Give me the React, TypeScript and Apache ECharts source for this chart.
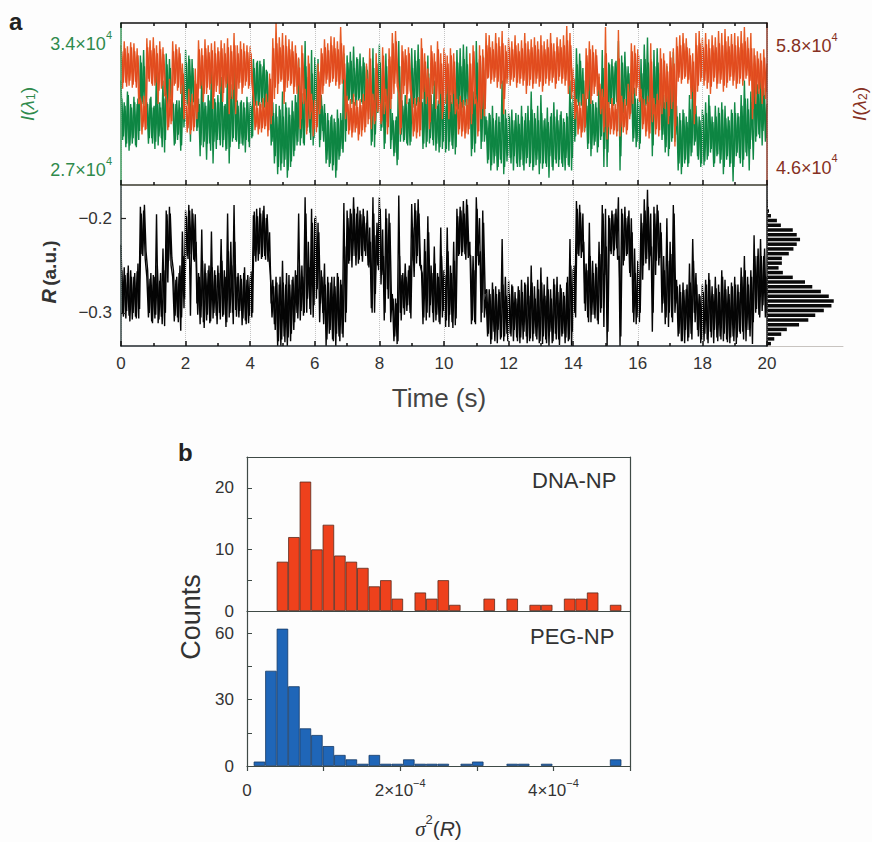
import React, { useEffect, useRef } from "react";
import * as echarts from "echarts";

const FONT = "Liberation Sans";

// the second pass of each trace sits half a step later
const timeStep = 0.05;

// R x 1000
const rValues = [
  -228,-301,-252,-306,-258,-303,-255,-307,-262,-304,-256,-306,-188,-238,-192,-243,-262,-305,-264,-309,
  -260,-306,-196,-311,-266,-304,-232,-314,-192,-268,-188,-250,-262,-309,-265,-305,-258,-319,-214,-295,
  -192,-240,-186,-303,-190,-244,-196,-290,-258,-312,-212,-310,-248,-308,-255,-311,-214,-306,-255,-303,
  -250,-300,-222,-304,-255,-315,-195,-305,-225,-300,-186,-297,-262,-305,-260,-313,-258,-308,-265,-311,
  -262,-305,-197,-240,-190,-245,-189,-243,-192,-240,-200,-246,-215,-290,-265,-312,-262,-335,-270,-335,
  -245,-325,-270,-335,-260,-330,-265,-318,-255,-300,-195,-308,-250,-303,-178,-300,-225,-296,-190,-305,
  -200,-285,-205,-310,-255,-300,-248,-335,-262,-322,-268,-328,-262,-335,-258,-325,-265,-322,-184,-310,
  -192,-248,-190,-252,-178,-240,-195,-248,-192,-240,-190,-235,-205,-250,-210,-295,-178,-300,-218,-250,
  -178,-270,-212,-308,-190,-275,-195,-310,-280,-330,-285,-333,-176,-300,-260,-295,-248,-298,-255,-300,
  -185,-245,-184,-248,-180,-250,-250,-312,-222,-308,-198,-305,-250,-300,-230,-308,-258,-310,-210,-305,
  -255,-315,-210,-315,-250,-310,-225,-313,-190,-240,-188,-240,-182,-238,-180,-242,-225,-312,-240,-310,
  -178,-240,-200,-310,-192,-305,-280,-325,-275,-333,-268,-320,-272,-332,-275,-328,-222,-330,-262,-322,
  -266,-322,-270,-330,-278,-326,-272,-332,-265,-328,-268,-325,-262,-330,-250,-330,-272,-325,-265,-332,
  -252,-333,-270,-328,-262,-335,-275,-332,-264,-322,-262,-328,-270,-325,-278,-332,-268,-330,-222,-335,
  -254,-300,-182,-238,-186,-242,-195,-290,-248,-305,-205,-310,-245,-302,-248,-308,-225,-300,-186,-315,
  -190,-335,-197,-235,-192,-240,-195,-232,-178,-335,-190,-250,-188,-240,-198,-258,-200,-300,-232,-312,
  -245,-310,-195,-265,-180,-248,-170,-255,-195,-320,-188,-260,-186,-250,-205,-300,-240,-312,-200,-315,
  -225,-305,-186,-300,-265,-325,-270,-330,-268,-332,-275,-330,-248,-322,-222,-300,-258,-318,-280,-332,
  -270,-330,-265,-328,-258,-320,-272,-332,-262,-326,-270,-325,-255,-330,-265,-328,-272,-332,-268,-325,
  -262,-333,-270,-320,-252,-320,-240,-330,-262,-318,-255,-333,-218,-300,-240,-302,-222,-298,-240,-305,
  -262,
];
const rValuesB = [
  -255,-304,-260,-298,-250,-309,-262,-300,-258,-306,-248,-296,-195,-240,-186,-235,-255,-300,-258,-311,
  -262,-302,-250,-307,-258,-312,-255,-300,-196,-245,-195,-242,-256,-303,-262,-310,-250,-305,-240,-285,
  -198,-243,-192,-238,-195,-246,-225,-302,-262,-305,-245,-316,-258,-302,-250,-309,-252,-300,-260,-312,
  -258,-307,-245,-302,-262,-310,-235,-300,-250,-312,-225,-304,-258,-298,-264,-306,-252,-312,-260,-303,
  -256,-300,-193,-246,-198,-238,-195,-241,-187,-244,-196,-238,-260,-305,-272,-318,-268,-330,-262,-328,
  -268,-331,-258,-326,-270,-322,-262,-310,-260,-306,-250,-298,-262,-300,-195,-285,-252,-302,-205,-292,
  -198,-275,-215,-290,-262,-312,-270,-328,-268,-318,-262,-330,-272,-322,-262,-330,-270,-326,-230,-300,
  -200,-245,-195,-240,-190,-250,-188,-244,-196,-246,-198,-240,-192,-252,-225,-300,-195,-280,-205,-255,
  -190,-260,-240,-300,-200,-285,-205,-290,-285,-325,-290,-330,-240,-308,-258,-302,-262,-292,-250,-306,
  -210,-262,-192,-240,-195,-252,-258,-305,-235,-300,-215,-292,-258,-310,-248,-302,-262,-312,-240,-298,
  -260,-308,-235,-302,-258,-316,-245,-306,-198,-238,-192,-236,-195,-244,-186,-238,-240,-308,-255,-312,
  -190,-250,-235,-300,-205,-280,-275,-322,-280,-328,-275,-330,-280,-318,-278,-326,-270,-325,-282,-330,
  -280,-325,-272,-318,-285,-330,-276,-326,-278,-320,-270,-332,-282,-327,-268,-322,-285,-328,-275,-330,
  -268,-325,-282,-332,-275,-320,-285,-330,-270,-328,-278,-334,-274,-322,-282,-326,-262,-328,-250,-320,
  -250,-305,-190,-240,-194,-236,-225,-298,-255,-310,-240,-302,-258,-306,-252,-312,-238,-295,-195,-260,
  -230,-320,-200,-238,-196,-234,-190,-244,-240,-325,-195,-245,-200,-238,-192,-262,-215,-310,-258,-305,
  -255,-300,-205,-250,-192,-243,-188,-240,-230,-300,-195,-245,-192,-242,-215,-290,-255,-305,-245,-300,
  -238,-310,-195,-290,-272,-322,-278,-330,-276,-318,-270,-326,-268,-328,-245,-310,-270,-325,-282,-328,
  -278,-322,-270,-332,-265,-326,-280,-318,-274,-330,-278,-328,-262,-322,-275,-331,-280,-326,-272,-330,
  -270,-326,-278,-322,-262,-328,-255,-318,-270,-325,-262,-310,-240,-296,-232,-305,-240,-292,-232,-300,
];

// I(lambda1) / 100
const greenValues = [
  318,285,306,281,312,279,305,283,309,282,305,285,332,305,335,302,306,283,308,286,
  303,280,328,282,306,286,318,278,333,300,330,302,306,282,305,285,307,279,325,292,
  335,305,332,284,330,306,318,290,308,276,322,281,306,274,310,283,324,272,308,280,
  310,285,320,281,304,279,328,272,316,284,330,285,307,280,306,283,306,278,309,284,
  306,286,330,306,328,304,329,306,326,303,324,302,316,282,306,272,305,266,304,268,
  312,270,306,264,303,270,307,276,310,282,330,282,311,283,340,290,320,289,335,282,
  331,296,330,281,310,290,305,272,300,270,298,268,297,264,302,274,300,280,333,284,
  332,307,334,305,337,309,331,307,333,306,331,304,326,306,324,282,336,281,322,300,
  338,290,325,280,333,295,330,280,300,276,296,271,340,284,307,284,310,283,306,282,
  336,305,335,304,338,302,310,280,322,281,332,283,310,285,318,279,304,278,326,280,
  308,278,325,279,310,282,322,277,335,302,336,300,338,304,337,301,320,276,312,278,
  340,302,330,280,332,284,298,272,300,268,304,272,296,268,298,274,318,266,302,273,
  300,275,302,268,296,272,299,270,304,271,296,272,304,270,312,268,300,271,304,266,
  310,269,296,272,303,264,298,270,306,274,302,270,299,272,297,268,300,271,318,268,
  310,284,336,306,333,304,325,290,308,280,325,276,307,282,306,278,320,285,335,270,
  332,270,328,305,330,304,328,306,340,268,332,300,334,304,326,298,324,284,314,281,
  308,280,330,296,338,304,342,300,330,276,335,296,336,303,322,285,310,278,326,276,
  316,284,334,284,304,268,300,266,302,272,298,270,310,276,322,282,304,276,298,270,
  302,271,306,274,310,278,298,270,304,276,303,272,306,266,304,274,298,270,302,262,
  306,276,300,275,310,270,318,278,308,268,312,285,322,284,316,288,322,282,314,284,
  305,
];
const greenValuesB = [
  308,287,304,283,310,282,303,286,306,281,308,290,328,306,326,303,305,286,309,283,
  304,284,312,287,303,281,308,285,327,305,325,304,305,283,307,288,303,282,316,295,
  328,304,330,306,325,303,312,292,305,282,314,284,304,283,307,279,312,284,306,285,
  306,282,312,285,305,280,316,281,309,286,318,284,304,283,307,282,303,285,306,281,
  304,287,325,304,329,305,327,303,330,306,323,300,306,284,300,276,298,270,302,272,
  298,274,303,268,299,273,301,279,306,284,315,286,306,282,326,292,310,285,322,286,
  327,298,318,285,304,284,300,274,296,272,299,271,295,268,297,276,296,278,318,290,
  328,308,329,306,325,304,330,308,326,305,328,307,324,305,312,284,325,288,318,302,
  328,292,315,283,326,296,322,285,296,278,298,274,326,288,304,285,306,282,308,284,
  325,303,329,306,330,304,306,283,314,284,322,286,305,282,310,283,307,281,316,284,
  304,280,314,284,306,280,312,281,328,305,326,303,330,306,327,304,312,280,307,283,
  328,303,314,284,324,288,296,274,299,271,297,276,300,270,295,272,306,270,297,276,
  298,272,296,276,300,270,294,274,298,268,300,275,296,272,302,270,297,274,296,272,
  300,272,297,270,295,276,300,268,298,272,296,274,301,270,295,275,298,270,306,275,
  306,287,327,304,329,305,318,292,304,283,315,280,305,284,303,281,312,287,325,280,
  318,278,327,306,326,305,329,304,322,276,328,302,326,305,322,300,315,286,308,284,
  304,283,322,298,330,305,328,303,318,282,326,298,328,304,314,288,306,281,315,280,
  308,286,324,288,298,272,296,270,300,274,295,272,302,278,312,284,298,274,296,272,
  299,273,300,276,304,280,295,272,298,277,300,274,302,270,297,276,296,272,300,270,
  300,278,298,272,304,274,308,276,302,280,306,274,315,287,312,286,316,290,310,286,
];

// I(lambda2) / 100
const orangeValues = [
  578,535,582,541,577,538,581,536,580,542,575,520,525,490,528,494,585,545,583,540,
  586,538,578,520,582,535,576,528,528,494,545,500,582,538,579,533,576,530,560,505,
  524,492,535,490,530,493,555,505,583,535,575,522,584,530,578,534,580,515,582,532,
  576,530,583,522,580,536,585,510,578,525,590,510,578,535,582,530,580,538,578,535,
  577,540,525,494,523,490,522,492,526,495,530,488,550,500,585,525,600,530,586,542,
  590,520,588,536,584,538,582,530,578,530,566,495,578,520,535,490,568,505,530,488,
  524,492,560,510,575,530,584,540,580,537,587,542,586,538,582,535,596,540,578,505,
  528,490,525,487,530,492,524,484,525,488,530,492,560,500,575,495,530,500,570,512,
  525,500,576,510,535,490,575,515,590,530,592,538,530,490,578,530,574,520,576,534,
  524,488,526,486,527,488,585,525,570,520,555,495,578,530,570,515,582,520,570,505,
  575,520,568,505,575,520,570,510,525,490,528,488,524,486,525,490,570,500,578,520,
  525,488,578,505,574,508,590,545,588,540,582,542,590,536,586,535,592,510,578,540,
  585,538,582,542,588,536,580,540,583,538,590,530,582,538,584,535,586,540,582,537,
  588,532,582,540,584,538,590,541,580,535,586,543,584,540,588,538,597,530,590,525,
  555,505,525,490,522,487,530,492,575,525,582,520,578,530,574,528,550,510,535,492,
  596,485,522,490,526,490,520,488,593,488,528,492,525,490,540,505,580,520,578,528,
  574,522,535,495,525,488,528,486,580,502,526,490,530,488,575,510,570,515,560,500,
  572,515,575,478,586,542,588,540,590,545,585,540,575,525,570,500,590,532,592,542,
  585,538,590,535,584,530,588,542,586,535,592,540,590,532,594,536,587,543,589,538,
  590,535,587,540,592,538,596,545,586,538,590,505,575,520,572,530,570,520,574,525,
  560,
];
const orangeValuesB = [
  572,541,575,537,570,543,576,539,572,536,568,528,521,497,518,495,576,542,573,538,
  575,541,570,533,574,538,569,536,520,497,525,503,572,540,574,536,570,539,550,512,
  518,496,522,494,519,497,540,512,574,538,568,530,575,536,571,540,573,527,570,538,
  572,537,575,531,570,540,576,525,572,534,578,522,570,541,574,536,572,542,571,538,
  570,543,519,497,516,495,520,496,517,498,522,494,545,508,575,536,580,540,576,544,
  578,532,577,543,574,540,572,537,570,538,556,505,570,530,522,497,560,512,524,495,
  518,497,552,515,570,538,576,544,573,541,578,545,575,542,574,539,580,544,560,512,
  520,494,516,492,522,496,517,490,519,494,523,497,545,505,565,508,524,503,560,518,
  520,503,568,522,528,497,567,525,580,540,582,542,525,496,572,538,568,530,570,540,
  518,493,520,492,522,494,575,532,562,527,546,502,572,538,562,525,574,530,560,512,
  570,530,560,512,568,530,562,518,520,495,522,493,518,491,519,495,560,510,572,530,
  519,493,568,515,566,515,578,546,576,544,574,546,580,542,577,540,580,525,572,545,
  576,544,574,546,578,541,572,545,575,543,580,538,574,544,576,540,578,545,574,542,
  578,538,574,545,576,543,580,546,572,540,577,547,576,545,578,543,583,538,578,532,
  545,512,519,495,516,492,524,497,568,533,574,528,571,537,568,534,540,515,527,497,
  570,497,516,495,520,494,515,493,565,497,522,497,519,494,532,510,572,530,570,536,
  568,528,526,500,519,493,522,491,562,510,520,495,524,494,565,516,563,522,552,508,
  566,522,560,498,577,546,578,544,580,547,576,544,568,532,562,510,578,538,580,546,
  576,543,579,541,575,537,578,546,576,540,580,544,578,538,582,541,577,547,579,543,
  578,540,576,545,580,543,582,548,575,543,575,515,568,530,565,535,563,528,566,532,
];

// side histogram of R, bottom bin first
const rHistogram = [
  12,22,43,60,97,125,146,172,195,202,187,163,137,115,78,48,35,45,45,66,80,90,100,90,78,42,30,12,6,3,2,0,0,0,
];
const rHistogramBins = rHistogram.map((_, i) => String(i));

// variance histograms, bin width 1.5e-5, first bin starts at 0.0875e-4
const varianceBinStart = 0.0875;
const varianceBinWidth = 0.15;
const dnaCounts = [
  0,0,8,12,21,10,14,9,8,7,4,5,2,0,3,2,5,1,0,0,2,0,2,0,1,1,0,2,2,3,0,1,
];
const pegCounts = [
  2,43,62,36,17,14,9,5,3,1,5,1,1,3,1,1,1,0,1,2,0,0,1,1,0,1,0,0,0,0,0,3,
];

const intensityLeftTicks = [270, 340];
const intensityRightTicks = [460, 580];
const rTicks = [-300, -200];

const intensityLabels: Record<number, string> = {
  270: "2.7×10",
  340: "3.4×10",
  460: "4.6×10",
  580: "5.8×10",
};

const GREEN_TEXT = "#2f8a4c";
const RED_TEXT = "#863022";
const DARK = "#333333";
const FRAME = "#3f4a46";

const histogramData = (counts: number[]) =>
  counts
    .map((c, i) => [varianceBinStart + varianceBinWidth * (i + 0.5), c])
    .filter((d) => d[1] > 0);

const traceSeries = (name: string, values: number[], start: number, xIndex: number, yIndex: number, color: string) => ({
  name,
  type: "line",
  xAxisIndex: xIndex,
  yAxisIndex: yIndex,
  data: values.map((v, i) => [start + i * timeStep, v]),
  showSymbol: false,
  lineStyle: { color, width: 1.4, join: "bevel" },
});

const powerRich = (color: string) => ({
  b: { fontFamily: FONT, fontSize: 18, color, lineHeight: 24, verticalAlign: "bottom" },
  s: { fontFamily: FONT, fontSize: 11, color, lineHeight: 12, verticalAlign: "top" },
});

const lambdaRich = (color: string) => ({
  i: { fontFamily: FONT, fontStyle: "italic", fontSize: 19, color, lineHeight: 24, verticalAlign: "bottom" },
  r: { fontFamily: FONT, fontSize: 19, color, lineHeight: 24, verticalAlign: "bottom" },
  s: { fontFamily: FONT, fontSize: 12, color, lineHeight: 12, verticalAlign: "bottom" },
});

const App: React.FC = () => {
  const chartRef = useRef<HTMLDivElement>(null);

  useEffect(() => {
    const chart = echarts.init(chartRef.current!, undefined, { renderer: "svg" });

    const option: any = {
      animation: false,
      backgroundColor: "#fdfdfd",
      textStyle: { fontFamily: FONT },
      grid: [
        { left: 121, top: 23, width: 646, height: 162, outerBoundsMode: "none" },
        { left: 121, top: 185, width: 646, height: 161, outerBoundsMode: "none" },
        { left: 767, top: 185, width: 76, height: 161, outerBoundsMode: "none" },
        { left: 247, top: 457, width: 383, height: 154, outerBoundsMode: "none" },
        { left: 247, top: 611, width: 383, height: 155, outerBoundsMode: "none" },
      ],
      xAxis: [
        // top panel, lower edge
        {
          type: "value", gridIndex: 0, min: 0, max: 20, interval: 2, z: 5,
          axisLine: { onZero: false, lineStyle: { color: "#3a3a2e", width: 1.5 } },
          axisTick: { inside: true, length: 5, lineStyle: { color: "#111", width: 1.5 } },
          minorTick: { show: true, splitNumber: 2, length: 3, lineStyle: { color: "#111", width: 1.5 } },
          axisLabel: { show: false },
          splitLine: { show: true, lineStyle: { type: "dotted", color: "#c4c4c4" } },
        },
        // top panel, upper edge
        {
          type: "value", gridIndex: 0, position: "top", min: 0, max: 20, interval: 2, z: 5,
          axisLine: { onZero: false, lineStyle: { color: "#111", width: 1.5 } },
          axisTick: { inside: true, length: 5, lineStyle: { color: "#111", width: 1.5 } },
          minorTick: { show: true, splitNumber: 2, length: 3, lineStyle: { color: "#111", width: 1.5 } },
          axisLabel: { show: false },
          splitLine: { show: false },
        },
        // lower panel
        {
          type: "value", gridIndex: 1, min: 0, max: 20, interval: 2, z: 5,
          axisLine: { onZero: false, lineStyle: { color: "#22282e", width: 1.5 } },
          axisTick: { inside: true, length: 5, lineStyle: { color: "#111", width: 1.5 } },
          minorTick: { show: true, splitNumber: 2, length: 3, lineStyle: { color: "#111", width: 1.5 } },
          axisLabel: { fontFamily: FONT, fontSize: 17, color: DARK, margin: 9 },
          splitLine: { show: true, lineStyle: { type: "dotted", color: "#c4c4c4" } },
        },
        // side histogram
        {
          type: "value", gridIndex: 2, min: 0, max: 230,
          axisLine: { show: true, onZero: false, lineStyle: { color: "#c8c4c0", width: 1 } },
          axisTick: { show: false },
          axisLabel: { show: false },
          splitLine: { show: false },
        },
        // DNA-NP
        {
          type: "value", gridIndex: 3, min: 0, max: 5, z: 5,
          axisLine: { onZero: false, lineStyle: { color: FRAME, width: 1.2 } },
          axisTick: { show: false },
          axisLabel: { show: false },
          splitLine: { show: false },
        },
        {
          type: "value", gridIndex: 3, position: "top", min: 0, max: 5, z: 5,
          axisLine: { onZero: false, lineStyle: { color: FRAME, width: 1.2 } },
          axisTick: { show: false },
          axisLabel: { show: false },
          splitLine: { show: false },
        },
        // PEG-NP
        {
          type: "value", gridIndex: 4, min: 0, max: 5, interval: 1, z: 5,
          name: "{s|σ}{p|2}{b|(}{r|R}{b|)}", nameLocation: "middle", nameGap: 47,
          nameTextStyle: {
            rich: {
              s: { fontFamily: "Liberation Serif", fontStyle: "italic", fontSize: 21, color: DARK, lineHeight: 26, verticalAlign: "bottom" },
              p: { fontFamily: FONT, fontSize: 13, color: DARK, lineHeight: 14, verticalAlign: "top" },
              b: { fontFamily: FONT, fontSize: 21, color: DARK, lineHeight: 26, verticalAlign: "bottom" },
              r: { fontFamily: FONT, fontStyle: "italic", fontSize: 21, color: DARK, lineHeight: 26, verticalAlign: "bottom" },
            },
          },
          axisLine: { onZero: false, lineStyle: { color: FRAME, width: 1.2 } },
          axisTick: { length: 5, lineStyle: { color: FRAME, width: 1.2 } },
          axisLabel: {
            margin: 11,
            formatter: (v: number) => {
              if (v === 0) return "{b|0}";
              if (v % 2 !== 0) return "";
              return `{b|${v}×10}{s|−4}`;
            },
            rich: {
              b: { fontFamily: FONT, fontSize: 17, color: DARK, lineHeight: 22, verticalAlign: "bottom" },
              s: { fontFamily: FONT, fontSize: 11, color: DARK, lineHeight: 12, verticalAlign: "top" },
            },
          },
          splitLine: { show: false },
        },
      ],
      yAxis: [
        // I(lambda1)
        {
          type: "value", gridIndex: 0, min: 260, max: 350, z: 5,
          name: "{i|I}{r|(}{i|λ}{s|1}{r|)}", nameLocation: "middle", nameGap: 84, nameRotate: 90,
          nameTextStyle: { rich: lambdaRich(GREEN_TEXT) },
          axisLine: { show: true, onZero: false, lineStyle: { color: "#3f9a5e", width: 1.5 } },
          axisTick: { show: false },
          axisLabel: {
            customValues: intensityLeftTicks, margin: 9,
            formatter: (v: number) => `{b|${intensityLabels[v]}}{s|4}`,
            rich: powerRich(GREEN_TEXT),
          },
          splitLine: { show: false },
        },
        // I(lambda2)
        {
          type: "value", gridIndex: 0, position: "right", min: 440, max: 600, z: 5,
          name: "{i|I}{r|(}{i|λ}{s|2}{r|)}", nameLocation: "middle", nameGap: 78, nameRotate: 90,
          nameTextStyle: { rich: lambdaRich(RED_TEXT) },
          axisLine: { show: true, onZero: false, lineStyle: { color: "#8a3a2a", width: 1.5 } },
          axisTick: { show: false },
          axisLabel: {
            customValues: intensityRightTicks, margin: 9,
            formatter: (v: number) => `{b|${intensityLabels[v]}}{s|4}`,
            rich: powerRich(RED_TEXT),
          },
          splitLine: { show: false },
        },
        // R
        {
          type: "value", gridIndex: 1, min: -335, max: -165, z: 5,
          axisLine: { show: true, onZero: false, lineStyle: { color: "#3a4a48", width: 1.5 } },
          axisTick: { inside: true, length: 5, customValues: rTicks, lineStyle: { color: "#222", width: 1.2 } },
          axisLabel: {
            customValues: rTicks, margin: 9,
            fontFamily: FONT, fontSize: 17, color: DARK,
            formatter: (v: number) => `−${Math.abs(v / 1000).toFixed(1)}`,
          },
          splitLine: { show: false },
        },
        // side histogram
        {
          type: "category", gridIndex: 2, data: rHistogramBins, z: 5,
          axisLine: { show: true, onZero: false, lineStyle: { color: "#1a1a1a", width: 1.5 } },
          axisTick: { show: false },
          axisLabel: { show: false },
          splitLine: { show: false },
        },
        // DNA-NP
        {
          type: "value", gridIndex: 3, min: 0, max: 25, z: 5,
          axisLine: { show: true, onZero: false, lineStyle: { color: FRAME, width: 1.2 } },
          axisTick: { inside: true, length: 5, customValues: [0, 5, 10, 15, 20], lineStyle: { color: FRAME } },
          axisLabel: { customValues: [0, 10, 20], margin: 13, fontFamily: FONT, fontSize: 17, color: DARK },
          splitLine: { show: false },
        },
        {
          type: "value", gridIndex: 3, position: "right", min: 0, max: 25, z: 5,
          axisLine: { show: true, onZero: false, lineStyle: { color: FRAME, width: 1.2 } },
          axisTick: { show: false },
          axisLabel: { show: false },
          splitLine: { show: false },
        },
        // PEG-NP
        {
          type: "value", gridIndex: 4, min: 0, max: 70, z: 5,
          axisLine: { show: true, onZero: false, lineStyle: { color: FRAME, width: 1.2 } },
          axisTick: { inside: true, length: 5, customValues: [0, 15, 30, 45, 60], lineStyle: { color: FRAME } },
          axisLabel: { customValues: [0, 30, 60], margin: 13, fontFamily: FONT, fontSize: 17, color: DARK },
          splitLine: { show: false },
        },
        {
          type: "value", gridIndex: 4, position: "right", min: 0, max: 70, z: 5,
          axisLine: { show: true, onZero: false, lineStyle: { color: FRAME, width: 1.2 } },
          axisTick: { show: false },
          axisLabel: { show: false },
          splitLine: { show: false },
        },
      ],
      series: [
        traceSeries("I(λ1)", greenValues, 0, 0, 0, "#128a47"),
        traceSeries("I(λ1) b", greenValuesB, timeStep / 2, 0, 0, "#0d8542"),
        traceSeries("I(λ2)", orangeValues, 0, 0, 1, "#e65a24"),
        traceSeries("I(λ2) b", orangeValuesB, timeStep / 2, 0, 1, "#e14b1f"),
        traceSeries("R", rValues, 0, 2, 2, "#050505"),
        traceSeries("R b", rValuesB, timeStep / 2, 2, 2, "#050505"),
        {
          name: "R histogram", type: "bar", xAxisIndex: 3, yAxisIndex: 3,
          data: rHistogram, barWidth: 3.5,
          itemStyle: { color: "#0a0a0a" },
        },
        {
          name: "DNA-NP", type: "bar", xAxisIndex: 4, yAxisIndex: 4,
          data: histogramData(dnaCounts), barWidth: 11.5,
          itemStyle: { color: "#ee411c", borderColor: "#5b2a1c", borderWidth: 0.8 },
        },
        {
          name: "PEG-NP", type: "bar", xAxisIndex: 6, yAxisIndex: 6,
          data: histogramData(pegCounts), barWidth: 11.5,
          itemStyle: { color: "#1f66b8", borderColor: "#153a66", borderWidth: 0.8 },
        },
      ],
      graphic: [
        { type: "text", x: 9, y: 21, style: { text: "a", fontFamily: FONT, fontWeight: "bold", fontSize: 24, fill: "#222", verticalAlign: "middle" } },
        { type: "text", x: 178, y: 452, style: { text: "b", fontFamily: FONT, fontWeight: "bold", fontSize: 24, fill: "#222", verticalAlign: "middle" } },
        { type: "text", x: 532, y: 480, style: { text: "DNA-NP", fontFamily: FONT, fontSize: 22, fill: DARK, verticalAlign: "middle" } },
        { type: "text", x: 530, y: 636, style: { text: "PEG-NP", fontFamily: FONT, fontSize: 22, fill: DARK, verticalAlign: "middle" } },
        { type: "text", x: 439, y: 398, style: { text: "Time (s)", fontFamily: FONT, fontSize: 26, fill: "#444", align: "center", verticalAlign: "middle" } },
        {
          type: "text", x: 191, y: 617, rotation: Math.PI / 2,
          style: { text: "Counts", fontFamily: FONT, fontSize: 27, fill: DARK, align: "center", verticalAlign: "middle" },
        },
        {
          type: "text", x: 49, y: 272, rotation: Math.PI / 2,
          style: {
            text: "{r|R} {b|(a.u.)}", align: "center", verticalAlign: "middle",
            rich: {
              r: { fontFamily: FONT, fontStyle: "italic", fontWeight: "bold", fontSize: 20, fill: DARK },
              b: { fontFamily: FONT, fontWeight: "bold", fontSize: 19, fill: DARK },
            },
          },
        },
      ],
    };

    chart.setOption(option);

    return () => {
      chart.dispose();
    };
  }, []);

  return (
    <div
      ref={chartRef}
      style={{ position: "absolute", left: 0, top: 0, width: 872, height: 842 }}
    />
  );
};

export default App;
